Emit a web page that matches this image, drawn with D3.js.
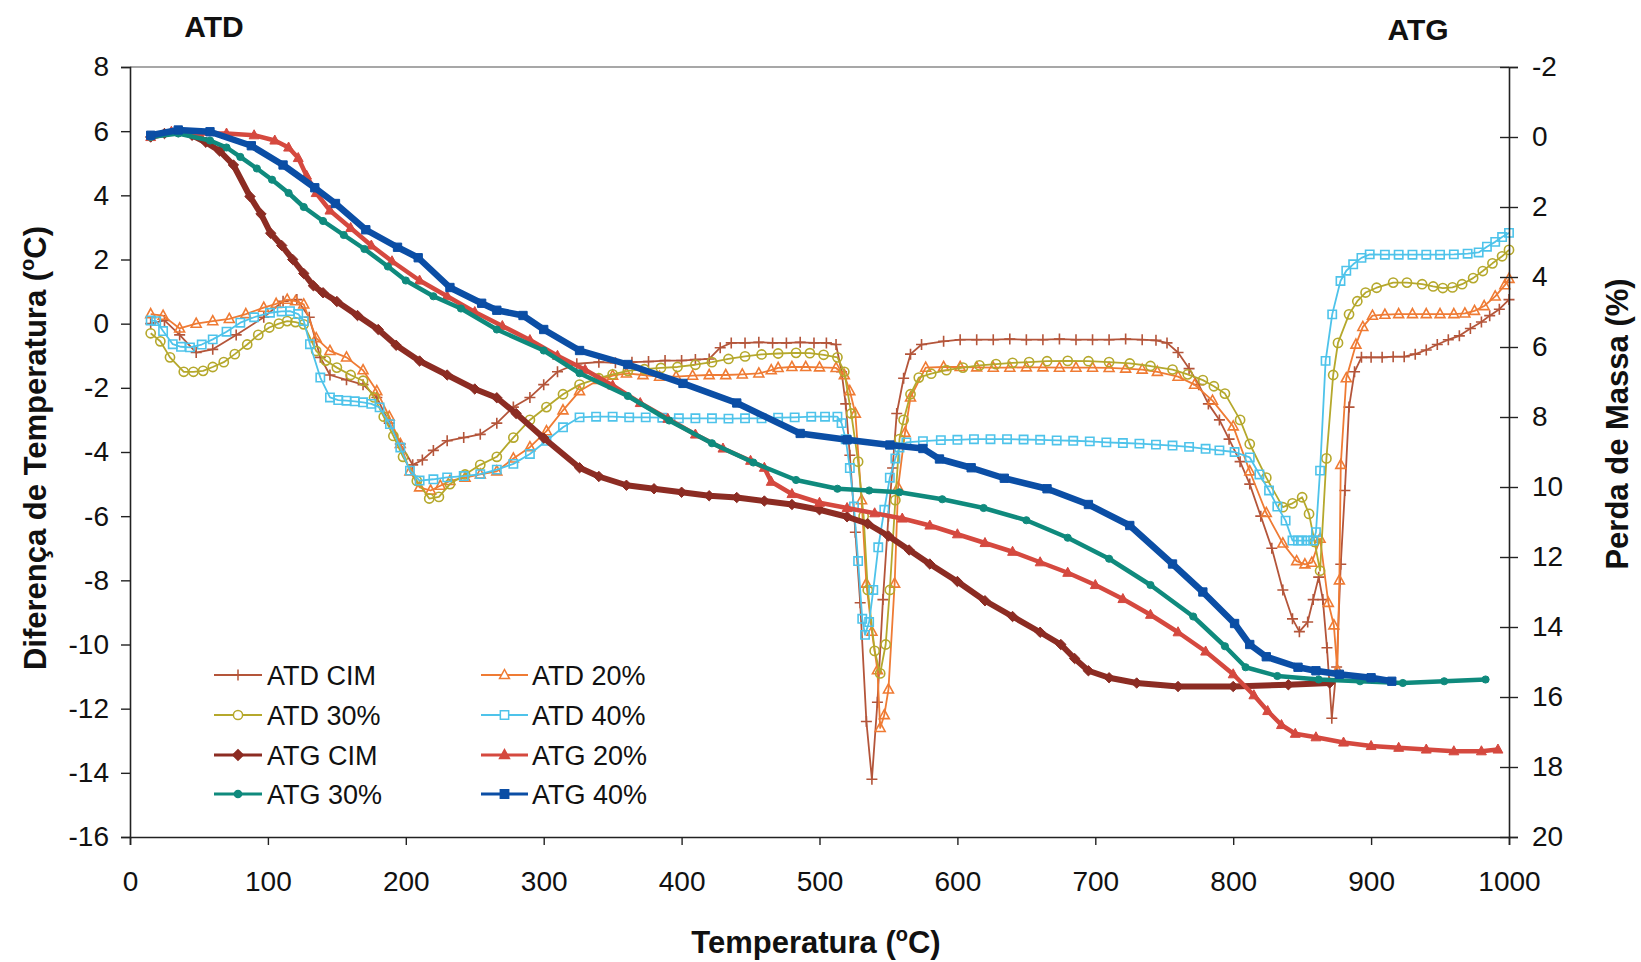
<!DOCTYPE html>
<html>
<head>
<meta charset="utf-8">
<script src="https://cdn.jsdelivr.net/npm/d3@7"></script>
<style>
  html, body { margin: 0; padding: 0; background: #fff; }
  svg { display: block; font-family: "Liberation Sans", Arial, sans-serif; }
</style>
</head>
<body>
<svg id="chart" width="1641" height="962"></svg>
<script>
// ---- Temperature axis and tick labels ----
const xTickValues = [0, 100, 200, 300, 400, 500, 600, 700, 800, 900, 1000];
const atdTickValues = [-16, -14, -12, -10, -8, -6, -4, -2, 0, 2, 4, 6, 8];
const atgTickValues = [-2, 0, 2, 4, 6, 8, 10, 12, 14, 16, 18, 20];

// ---- DTA curves: [temperature °C, temperature difference °C] ----
const atdCim = [[15,0.0],[25,0.1],[36,-0.35],[48,-0.9],[60,-0.8],[77,-0.35],[97,0.2],[111,0.7],[121,0.75],[130,0.2],
  [138,-1.05],[145,-1.6],[157,-1.75],[169,-1.9],[179,-2.3],[188,-3.1],[196,-3.75],[205,-4.4],[212,-4.25],[220,-3.95],
  [230,-3.65],[242,-3.55],[254,-3.45],[266,-3.1],[278,-2.6],[290,-2.3],[300,-1.9],[310,-1.5],[324,-1.25],[340,-1.2],
  [352,-1.22],[364,-1.2],[376,-1.18],[388,-1.15],[400,-1.15],[410,-1.12],[420,-1.1],[428,-0.75],[436,-0.6],[446,-0.6],
  [456,-0.58],[466,-0.6],[476,-0.6],[486,-0.58],[496,-0.6],[505,-0.6],[512,-0.65],[516,-1.5],[519,-2.5],
  [522,-4.1],[526,-6.5],[529.5,-8.7],[534,-12.4],[538,-14.2],[542,-11.8],[546,-8.6],[550,-6.0],[553,-4.5],[556,-2.8],
  [561,-1.7],[566,-0.95],[574,-0.65],[590,-0.55],[602,-0.5],[614,-0.5],[626,-0.5],[638,-0.48],[650,-0.5],[662,-0.5],
  [674,-0.48],[686,-0.5],[698,-0.5],[710,-0.5],[722,-0.48],[734,-0.5],[744,-0.52],[752,-0.6],[760,-0.9],
  [768,-1.4],[775,-1.9],[782,-2.5],[790,-3.0],[797,-3.6],[805,-4.3],[812,-5.0],[820,-6.0],[828,-7.0],[836,-8.3],
  [843,-9.2],[848,-9.6],[854,-9.3],[858,-8.6],[862,-7.9],[865,-8.6],[868,-10.1],[871.5,-12.3],[875,-10.7],[878,-7.5],
  [881,-5.2],[884,-2.6],[888,-1.5],[893,-1.05],[900,-1.05],[908,-1.05],[916,-1.03],[924,-1.03],[932,-0.95],[940,-0.82],
  [948,-0.65],[956,-0.5],[964,-0.38],[972,-0.15],[980,0.05],[986,0.25],[993,0.45],[1000,0.75]];

const atd20 = [[15,0.3],[24,0.25],[36,-0.15],[48,0.0],[60,0.08],[72,0.15],[84,0.3],[97,0.5],[106,0.62],[114,0.75],[120,0.7],[126,0.6],
  [135,-0.45],[145,-0.85],[157,-1.05],[169,-1.45],[179,-2.1],[188,-2.9],[196,-3.75],[203,-4.6],[210,-5.1],[218,-5.2],
  [225,-5.05],[232,-4.9],[243,-4.8],[254,-4.7],[266,-4.6],[278,-4.2],[290,-3.85],[302,-3.35],[314,-2.7],[326,-2.1],
  [340,-1.75],[350,-1.62],[360,-1.55],[372,-1.6],[384,-1.65],[396,-1.65],[408,-1.62],[420,-1.6],[432,-1.6],[444,-1.58],
  [456,-1.55],[465,-1.45],[470,-1.38],[480,-1.35],[490,-1.35],[500,-1.36],[512,-1.38],[518,-1.6],[522,-2.1],[526,-2.8],
  [530.5,-5.5],[534,-8.1],[538,-9.6],[542,-10.8],[544,-12.6],[547,-12.2],[550,-11.4],[554.5,-8.1],[557,-5.1],[562,-3.4],
  [566,-2.3],[577,-1.37],[590,-1.35],[602,-1.35],[614,-1.36],[626,-1.37],[638,-1.37],[650,-1.36],[662,-1.36],[674,-1.37],
  [686,-1.37],[698,-1.37],[710,-1.38],[722,-1.4],[734,-1.43],[745,-1.5],[760,-1.65],[772,-1.9],[785,-2.4],[800,-3.2],
  [812,-4.6],[824,-5.9],[836,-6.85],[846,-7.4],[852,-7.5],[857,-7.45],[863,-6.7],[869,-8.7],[873,-9.4],[875.5,-10.8],
  [877,-8.0],[878,-4.4],[882,-1.7],[889,-0.65],[894,-0.1],[901,0.25],[910,0.28],[920,0.3],[930,0.3],[940,0.3],
  [950,0.3],[960,0.3],[968,0.32],[975,0.4],[982,0.55],[990,0.85],[997,1.2],[1000,1.4]];

const atd30 = [[15,-0.3],[22,-0.55],[29,-1.05],[39,-1.5],[46,-1.5],[53,-1.47],[60,-1.35],[68,-1.2],[76,-0.95],[85,-0.65],
  [93,-0.35],[101,-0.12],[108,0.0],[114,0.08],[120,0.05],[126,-0.02],[135,-0.85],[142,-1.15],[150,-1.37],[160,-1.6],
  [169,-1.78],[177,-2.3],[184,-2.9],[191,-3.5],[198,-4.15],[208,-4.9],[217,-5.45],[224,-5.4],[232,-5.0],[243,-4.7],
  [254,-4.4],[266,-4.15],[278,-3.55],[290,-3.0],[302,-2.6],[314,-2.2],[326,-1.9],[340,-1.7],[350,-1.58],[361,-1.47],
  [373,-1.42],[385,-1.38],[397,-1.35],[410,-1.28],[422,-1.2],[434,-1.1],[446,-1.02],[458,-0.96],[470,-0.93],[483,-0.91],
  [493,-0.92],[503,-0.97],[513,-1.05],[518,-1.5],[523,-2.8],[528,-4.3],[532,-6.0],[535,-8.3],[540,-10.2],[544,-10.9],
  [548,-10.0],[551,-8.3],[555,-5.5],[558,-3.6],[561,-3.0],[566,-2.2],[572,-1.68],[581,-1.56],[592,-1.45],[604,-1.37],
  [616,-1.3],[628,-1.26],[640,-1.22],[652,-1.2],[665,-1.17],[680,-1.16],[695,-1.17],[710,-1.2],[725,-1.24],[740,-1.32],
  [756,-1.43],[767,-1.58],[778,-1.76],[786,-1.95],[794,-2.18],[805,-3.0],[812,-3.75],[824,-4.8],[836,-5.72],[843,-5.6],
  [850,-5.41],[855,-5.93],[859,-6.8],[863,-7.7],[867.6,-4.2],[872.5,-1.6],[876,-0.6],[884,0.29],[890,0.7],[896,0.97],
  [904,1.12],[916,1.28],[926,1.28],[937,1.23],[945,1.16],[952,1.11],[959,1.13],[966,1.23],[974,1.42],[981,1.64],
  [988,1.88],[995,2.1],[1000,2.3]];

const atd40 = [[15,0.1],[19,0.08],[24,-0.23],[31,-0.64],[37,-0.72],[43.5,-0.74],[52,-0.65],[60,-0.49],[70,-0.25],[80,0.03],
  [90,0.2],[101.5,0.34],[110,0.38],[116,0.39],[122,0.3],[126,0.08],[130.5,-0.64],[138,-1.68],[145,-2.3],[151,-2.38],
  [157,-2.4],[163,-2.42],[169,-2.45],[175,-2.5],[181,-2.61],[188.5,-3.13],[196,-3.86],[203,-4.58],[210,-4.89],[220,-4.85],
  [230,-4.79],[242,-4.75],[254,-4.69],[266,-4.55],[278,-4.37],[290,-4.06],[302,-3.65],[314,-3.23],[326,-2.92],[338,-2.9],
  [350,-2.9],[362,-2.92],[374,-2.92],[386,-2.93],[398,-2.95],[410,-2.95],[422,-2.95],[434,-2.96],[446,-2.95],[458,-2.95],
  [470,-2.93],[482,-2.92],[494,-2.9],[504,-2.9],[513,-2.9],[516,-3.1],[519,-3.6],[522,-4.5],[525,-5.7],[528,-7.4],
  [531,-9.2],[533,-9.7],[536,-9.3],[539,-8.3],[542.6,-6.97],[547,-5.8],[551,-4.8],[555,-4.2],[558,-3.86],[563,-3.7],
  [575,-3.66],[588,-3.63],[600,-3.62],[612,-3.6],[624,-3.6],[636,-3.6],[648,-3.61],[660,-3.62],[672,-3.64],[684,-3.65],
  [696,-3.67],[708,-3.7],[720,-3.72],[732,-3.74],[744,-3.77],[756,-3.8],[768,-3.84],[780,-3.9],[790,-3.95],[801,-4.0],
  [812,-4.17],[819,-4.7],[826,-5.2],[832,-5.7],[838,-6.14],[843,-6.76],[847,-6.76],[850,-6.76],[854,-6.76],[858,-6.76],
  [860,-6.5],[863,-4.58],[867,-1.16],[871.8,0.29],[877.8,1.33],[882,1.65],[887,1.85],[893,2.05],[899,2.16],[910,2.15],
  [920,2.15],[930,2.15],[940,2.15],[950,2.15],[960,2.16],[970,2.18],[978,2.22],[984,2.4],[990,2.55],[995,2.7],[1000,2.83]];

// ---- TGA curves: [temperature °C, mass loss %] ----
const atgCim = [[15,0.0],[25,-0.1],[35,-0.15],[45,-0.05],[55,0.15],[65,0.4],[75,0.8],[87,1.7],[95,2.2],[102,2.75],
  [110,3.1],[118,3.5],[126,3.9],[133,4.25],[140,4.45],[150,4.7],[165,5.1],[180,5.5],[193,5.95],[210,6.4],
  [230,6.8],[250,7.2],[266,7.45],[280,7.9],[300,8.6],[326,9.45],[340,9.7],[360,9.95],[380,10.05],[400,10.15],
  [420,10.25],[440,10.3],[460,10.4],[480,10.5],[500,10.65],[520,10.85],[535,11.05],[550,11.4],[565,11.8],[580,12.2],
  [600,12.7],[620,13.25],[640,13.7],[660,14.15],[675,14.5],[685,14.9],[695,15.25],[710,15.45],[730,15.6],[760,15.7],
  [800,15.7],[840,15.65],[870,15.6]];

const atg20 = [[15,0.0],[30,-0.15],[50,-0.1],[70,-0.1],[90,-0.05],[105,0.1],[115,0.3],[122,0.6],[128,1.1],[135,1.6],
  [145,2.1],[160,2.6],[175,3.1],[190,3.55],[210,4.1],[230,4.55],[250,5.0],[270,5.4],[290,5.8],[310,6.25],
  [330,6.65],[350,7.1],[370,7.6],[390,8.05],[410,8.5],[430,8.9],[450,9.25],[460,9.45],[465,9.85],[480,10.2],
  [500,10.45],[520,10.6],[540,10.75],[560,10.9],[580,11.1],[600,11.35],[620,11.6],[640,11.85],[660,12.15],[680,12.45],
  [700,12.8],[720,13.2],[740,13.65],[760,14.15],[780,14.7],[800,15.35],[815,15.95],[825,16.4],[835,16.8],[845,17.05],
  [860,17.15],[880,17.3],[900,17.4],[920,17.45],[940,17.5],[960,17.55],[980,17.55],[992,17.5]];

const atg30 = [[15,0.0],[35,-0.1],[58,0.1],[70,0.3],[80,0.57],[92,0.9],[103,1.22],[115,1.6],[126,2.0],[140,2.4],
  [155,2.8],[170,3.2],[187,3.7],[200,4.1],[220,4.55],[240,4.9],[266,5.5],[300,6.1],[326,6.75],[361,7.4],
  [391,8.1],[422,8.75],[452,9.3],[483,9.8],[513,10.05],[536,10.1],[558,10.15],[589,10.35],[619,10.6],[650,10.95],
  [680,11.45],[710,12.05],[740,12.8],[771,13.7],[794,14.55],[809,15.15],[832,15.4],[862,15.5],[892,15.55],[923,15.6],
  [953,15.55],[983,15.5]];

const atg40 = [[15,-0.05],[35,-0.2],[58,-0.15],[88,0.25],[111,0.8],[134,1.45],[149,1.9],[171,2.65],[194,3.15],[209,3.45],
  [232,4.3],[255,4.75],[266,4.95],[285,5.1],[300,5.5],[326,6.1],[361,6.5],[401,7.04],[440,7.6],[486,8.47],
  [520,8.65],[551,8.8],[575,8.9],[587,9.2],[610,9.45],[634,9.75],[665,10.05],[695,10.5],[725,11.1],[756,12.2],
  [778,13.0],[801,13.9],[812,14.5],[824,14.85],[847,15.15],[860,15.25],[877,15.35],[900,15.45],[915,15.55]];

// ---- Series styling ----
const series = [
  { name: "ATD CIM", data: atdCim, axis: "left",  color: "#B4553A", marker: "plus",     lineWidth: 1.8, open: true },
  { name: "ATD 20%", data: atd20,  axis: "left",  color: "#EF7B34", marker: "triangle", lineWidth: 1.8, open: true },
  { name: "ATD 30%", data: atd30,  axis: "left",  color: "#B5A82C", marker: "circle",   lineWidth: 1.8, open: true },
  { name: "ATD 40%", data: atd40,  axis: "left",  color: "#4EC3EA", marker: "square",   lineWidth: 1.8, open: true },
  { name: "ATG CIM", data: atgCim, axis: "right", color: "#8C2C23", marker: "diamond",  lineWidth: 6,   open: false },
  { name: "ATG 20%", data: atg20,  axis: "right", color: "#D5493F", marker: "triangle", lineWidth: 4.5, open: false },
  { name: "ATG 30%", data: atg30,  axis: "right", color: "#0F8A7D", marker: "dot",      lineWidth: 4.5, open: false },
  { name: "ATG 40%", data: atg40,  axis: "right", color: "#0B4EA5", marker: "square",   lineWidth: 6.5, open: false }
];

const W = 1641, H = 962;
const plot = { left: 130, right: 1509, top: 67, bottom: 837 };

const svg = d3.select("#chart");
svg.append("rect").attr("width", W).attr("height", H).attr("fill", "#fff");

const x = d3.scaleLinear().domain([0, 1000]).range([plot.left, plot.right]);
const yLeft = d3.scaleLinear().domain([-16, 8]).range([plot.bottom, plot.top]);
const yRight = d3.scaleLinear().domain([20, -2]).range([plot.bottom, plot.top]);

// marker outlines centred on (0,0)
function markerPath(type, r) {
  switch (type) {
    case "plus": return `M${-r},0H${r}M0,${-r}V${r}`;
    case "triangle": return `M0,${-r}L${r * 0.9},${r * 0.65}L${-r * 0.9},${r * 0.65}Z`;
    case "square": return `M${-r * 0.8},${-r * 0.8}H${r * 0.8}V${r * 0.8}H${-r * 0.8}Z`;
    case "diamond": return `M0,${-r}L${r},0L0,${r}L${-r},0Z`;
    case "circle":
    case "dot": return `M${r},0A${r},${r} 0 1,1 ${-r},0A${r},${r} 0 1,1 ${r},0Z`;
  }
}
const markerSize = { plus: 5.5, triangle: 5.5, circle: 4.6, square: 5.2, diamond: 5.2, dot: 3.6 };

// ---- Frame ----
svg.append("line")
  .attr("x1", plot.left).attr("x2", plot.right)
  .attr("y1", plot.top).attr("y2", plot.top)
  .attr("stroke", "#8a8a8a").attr("stroke-width", 1.5);

// ---- Series ----
const gSeries = svg.append("g");
series.forEach(s => {
  const y = s.axis === "left" ? yLeft : yRight;
  const line = d3.line().x(d => x(d[0])).y(d => y(d[1]));
  const g = gSeries.append("g");
  g.append("path")
    .attr("d", line(s.data))
    .attr("fill", "none")
    .attr("stroke", s.color)
    .attr("stroke-width", s.lineWidth)
    .attr("stroke-linejoin", "round");
  g.selectAll("path.mk").data(s.data).join("path")
    .attr("class", "mk")
    .attr("transform", d => `translate(${x(d[0])},${y(d[1])})`)
    .attr("d", markerPath(s.marker, markerSize[s.marker]))
    .attr("fill", s.open ? "none" : s.color)
    .attr("stroke", s.color)
    .attr("stroke-width", s.open ? 1.6 : 1);
});

// ---- Axes ----
const tickFont = 28;
const axisBottom = svg.append("g")
  .attr("transform", `translate(0,${plot.bottom})`)
  .call(d3.axisBottom(x).tickValues(xTickValues).tickSize(8).tickPadding(26).tickFormat(d3.format("d")));
const axisLeft = svg.append("g")
  .attr("transform", `translate(${plot.left},0)`)
  .call(d3.axisLeft(yLeft).tickValues(atdTickValues).tickSize(9).tickPadding(12).tickFormat(d3.format("d")));
const axisRight = svg.append("g")
  .attr("transform", `translate(${plot.right},0)`)
  .call(d3.axisRight(yRight).tickValues(atgTickValues).tickSize(9).tickPadding(14).tickFormat(d3.format("d")));
axisRight.selectAll(".tick line").attr("x1", -9);

[axisBottom, axisLeft, axisRight].forEach(a => {
  a.select(".domain").attr("stroke", "#222").attr("stroke-width", 1.6);
  a.selectAll(".tick line").attr("stroke", "#222").attr("stroke-width", 1.4);
  a.selectAll(".tick text")
    .attr("font-size", tickFont)
    .attr("font-family", "'Liberation Sans', Arial, sans-serif")
    .attr("fill", "#111")
    .text(d => String(d));
});

// ---- Titles ----
svg.append("text").attr("x", 214).attr("y", 37)
  .attr("text-anchor", "middle").attr("font-size", 30).attr("font-weight", "bold").attr("fill", "#111")
  .text("ATD");
svg.append("text").attr("x", 1418).attr("y", 40)
  .attr("text-anchor", "middle").attr("font-size", 30).attr("font-weight", "bold").attr("fill", "#111")
  .text("ATG");

// axis titles with superscript "o"
const xTitle = svg.append("text").attr("x", 816).attr("y", 953)
  .attr("text-anchor", "middle").attr("font-size", 31).attr("font-weight", "bold").attr("fill", "#111");
xTitle.append("tspan").text("Temperatura (");
xTitle.append("tspan").attr("font-size", 20).attr("dy", -12).text("o");
xTitle.append("tspan").attr("dy", 12).text("C)");

const yTitle = svg.append("text")
  .attr("transform", "translate(46,448) rotate(-90)")
  .attr("text-anchor", "middle").attr("font-size", 31).attr("font-weight", "bold").attr("fill", "#111");
yTitle.append("tspan").text("Diferença de Temperatura (");
yTitle.append("tspan").attr("font-size", 20).attr("dy", -12).text("o");
yTitle.append("tspan").attr("dy", 12).text("C)");

svg.append("text")
  .attr("transform", "translate(1628,424) rotate(-90)")
  .attr("text-anchor", "middle").attr("font-size", 31).attr("font-weight", "bold").attr("fill", "#111")
  .text("Perda de Massa (%)");

// ---- Legend (two columns, row-major order) ----
const legendRows = [675, 715, 755, 794];
const legendCols = [{ x0: 214, x1: 262, tx: 267 }, { x0: 481, x1: 528, tx: 532 }];
const gLegend = svg.append("g");
series.forEach((s, i) => {
  const col = legendCols[i % 2];
  const yy = legendRows[Math.floor(i / 2)];
  const g = gLegend.append("g");
  g.append("line").attr("x1", col.x0).attr("x2", col.x1).attr("y1", yy).attr("y2", yy)
    .attr("stroke", s.color).attr("stroke-width", s.open ? 2 : 3);
  g.append("path")
    .attr("transform", `translate(${(col.x0 + col.x1) / 2},${yy})`)
    .attr("d", markerPath(s.marker, markerSize[s.marker]))
    .attr("fill", s.open ? "#fff" : s.color)
    .attr("stroke", s.color).attr("stroke-width", 1.5);
  g.append("text").attr("x", col.tx).attr("y", yy + 9.5)
    .attr("font-size", 27).attr("fill", "#111").text(s.name);
});
</script>
</body>
</html>
